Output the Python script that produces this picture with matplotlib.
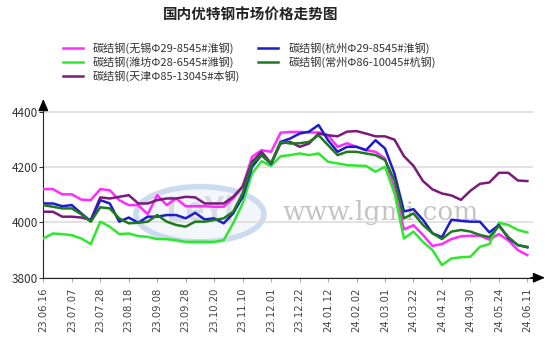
import matplotlib
matplotlib.use('Agg')
import matplotlib.pyplot as plt
from matplotlib.patches import Ellipse

plt.rcParams['font.family'] = ['Noto Sans CJK SC', 'DejaVu Sans']

# weekly prices, 52 points
tick_labels = ['23.06.16', '23.07.07', '23.07.28', '23.08.18', '23.09.08', '23.09.28',
               '23.10.20', '23.11.10', '23.12.01', '23.12.22', '24.01.12', '24.02.02',
               '24.03.01', '24.03.22', '24.04.12', '24.04.30', '24.05.24', '24.06.11']

wuxi = [4121, 4121, 4102, 4102, 4083, 4081, 4121, 4117, 4081, 4063, 4063, 4030, 4099,
        4063, 4087, 4059, 4059, 4059, 4057, 4057, 4087, 4130, 4238, 4262, 4256, 4325,
        4328, 4328, 4326, 4326, 4316, 4274, 4287, 4274, 4262, 4256, 4232, 4120, 3975,
        3990, 3955, 3915, 3922, 3940, 3950, 3952, 3952, 3938, 3958, 3935, 3900, 3882]
hangzhou = [4069, 4069, 4059, 4063, 4033, 4005, 4081, 4069, 4003, 4018, 3999, 4021, 4021,
            4027, 4027, 4015, 4035, 4011, 4015, 3997, 4033, 4093, 4202, 4244, 4212, 4292,
            4304, 4322, 4329, 4353, 4298, 4256, 4274, 4274, 4262, 4298, 4268, 4177, 4040,
            4048, 4010, 3961, 3947, 4010, 4006, 4003, 4003, 3964, 3991, 3943, 3918, 3910]
weifang = [3942, 3960, 3958, 3954, 3942, 3922, 4003, 3985, 3958, 3960, 3951, 3948, 3940,
           3940, 3936, 3930, 3930, 3930, 3930, 3936, 3997, 4069, 4178, 4222, 4205, 4240,
           4244, 4250, 4244, 4250, 4220, 4214, 4208, 4206, 4205, 4184, 4202, 4105, 3942,
           3967, 3930, 3900, 3846, 3870, 3874, 3876, 3912, 3922, 3999, 3991, 3973, 3964]
changzhou = [4063, 4057, 4051, 4051, 4030, 4003, 4055, 4051, 4015, 3997, 3999, 4003, 4027,
             4003, 3991, 3985, 4003, 4003, 4009, 4015, 4039, 4105, 4214, 4244, 4214, 4292,
             4286, 4287, 4292, 4316, 4280, 4244, 4256, 4256, 4250, 4244, 4226, 4153, 4015,
             4033, 3991, 3961, 3940, 3967, 3973, 3967, 3955, 3947, 3988, 3947, 3918, 3912]
tianjin = [4039, 4039, 4021, 4021, 4018, 4009, 4091, 4087, 4093, 4099, 4069, 4069, 4081,
           4087, 4087, 4093, 4091, 4069, 4069, 4069, 4093, 4130, 4220, 4256, 4214, 4286,
           4292, 4274, 4286, 4322, 4316, 4312, 4329, 4331, 4322, 4312, 4312, 4300, 4240,
           4205, 4150, 4120, 4105, 4098, 4082, 4115, 4140, 4145, 4180, 4180, 4152, 4150]

names = ['碳结钢(无锡Φ29-8545#淮钢)', '碳结钢(潍坊Φ28-6545#潍钢)', '碳结钢(天津Φ85-13045#本钢)',
         '碳结钢(杭州Φ29-8545#淮钢)', '碳结钢(常州Φ86-10045#杭钢)']
series = [wuxi, weifang, tianjin, hangzhou, changzhou]
colors = ['#ff2bff', '#2ee82e', '#7a1a7a', '#1c1ccc', '#1f7a1f']

fig = plt.figure(figsize=(5.54, 3.52), dpi=100)
ax = fig.add_axes([0.0782, 0.211, 0.884, 0.4864])

# watermarks
ax.add_patch(Ellipse((16.5, 4030), 13.5, 200, facecolor='#f1f5fb', edgecolor='#c5d5ec',
                     lw=4, alpha=0.85, zorder=0))
ax.text(16.5, 4040, 'LeYi', fontsize=24, color='#d6dbe4', ha='center', va='center',
        fontweight='bold', zorder=0.5)
ax.text(35.5, 4035, 'www.lgmi.com', fontsize=19, color='#c4c4c4', ha='center',
        va='center', family='DejaVu Serif', zorder=0.5)

x = list(range(len(wuxi)))
for vals, name, c in zip(series, names, colors):
    ax.plot(x, vals, color=c, lw=1.8, label=name, solid_joinstyle='round', zorder=3)

ax.set_xlim(0, 51.6)
ax.set_ylim(3800, 4420)
ax.set_yticks([3800, 4000, 4200, 4400])
ax.set_xticks(range(0, 52, 3))
ax.set_xticklabels(tick_labels, rotation=90, fontsize=7.2, color='#444444',
                   family='DejaVu Sans')
ax.tick_params(axis='x', length=3, color='#aaaaaa', pad=4)
ax.tick_params(axis='y', length=3, labelsize=8.5, colors='#333333', pad=1)
ax.grid(axis='y', color='#dddddd', lw=1.2)
ax.set_axisbelow(True)
for s in ['top', 'right']:
    ax.spines[s].set_visible(False)
ax.spines['left'].set_color('#222222')
ax.spines['bottom'].set_color('#222222')

# axis arrows
ax.annotate('', xy=(0, 1.06), xytext=(0, 0.99), xycoords='axes fraction',
            arrowprops=dict(arrowstyle='-|>,head_width=0.3,head_length=0.7', color='k', lw=1))
ax.annotate('', xy=(1.03, 0), xytext=(0.99, 0), xycoords='axes fraction',
            arrowprops=dict(arrowstyle='-|>,head_width=0.3,head_length=0.7', color='k', lw=1))

fig.text(0.453, 0.958, '国内优特钢市场价格走势图', ha='center', va='center',
         fontsize=10.5, fontweight='bold', color='#222222')
leg = fig.legend(loc='upper center', bbox_to_anchor=(0.45, 0.895), ncol=2, frameon=False,
                 fontsize=8, handlelength=1.8, handletextpad=0.9, columnspacing=1.6,
                 labelspacing=0.22, borderpad=0)
for t in leg.get_texts():
    t.set_color('#333333')

fig.savefig('out.png', dpi=100)
